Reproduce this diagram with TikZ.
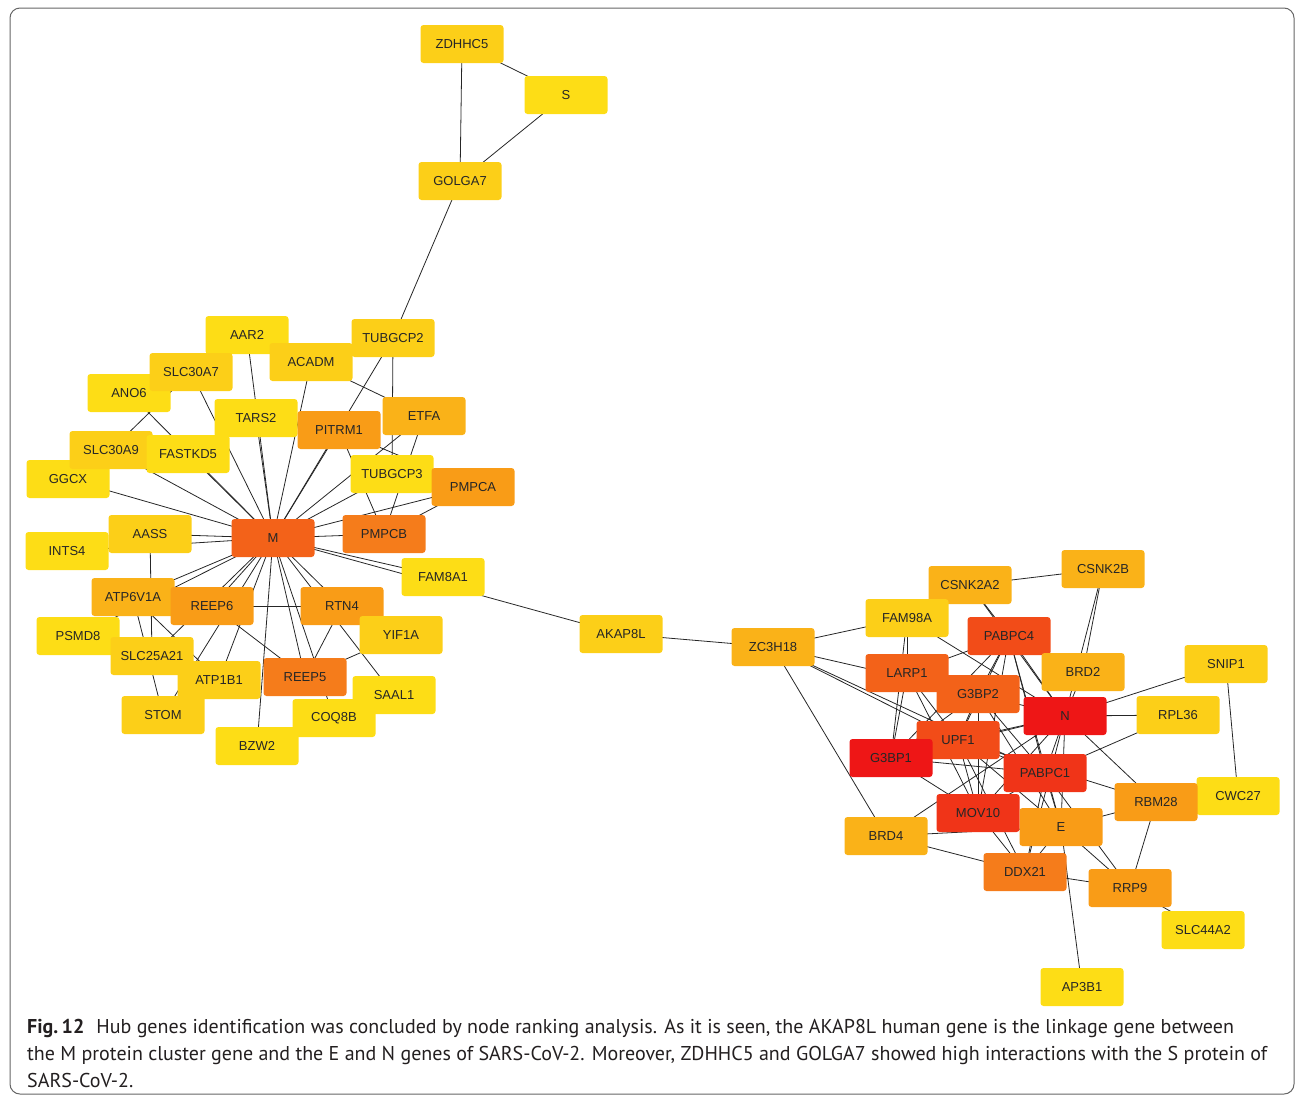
\documentclass[tikz,border=0pt]{standalone}
\usepackage{fontspec}
\newfontfamily\genefont{Liberation Sans}
\newfontfamily\capfont{PT Sans}
\pgfdeclarelayer{bg}
\pgfsetlayers{bg,main}
\definecolor{cY}{RGB}{253,221,22}
\definecolor{cG}{RGB}{252,207,24}
\definecolor{cOa}{RGB}{250,178,24}
\definecolor{cOb}{RGB}{249,156,23}
\definecolor{cOc}{RGB}{245,124,27}
\definecolor{cRa}{RGB}{243,98,25}
\definecolor{cRb}{RGB}{242,76,24}
\definecolor{cRc}{RGB}{240,52,24}
\definecolor{cRd}{RGB}{238,22,22}
\definecolor{captext}{RGB}{35,31,32}
\tikzset{
  gene/.style={rectangle, rounded corners=3pt, minimum width=83pt, minimum height=38pt,
    inner sep=0pt, text=black!85, font=\genefont\fontsize{13}{15}\selectfont},
  link/.style={draw=black!85, line width=0.8pt},
  capline/.style={anchor=base west, inner sep=0pt, text=captext, font=\capfont\fontsize{20}{23}\selectfont}
}
\begin{document}
\begin{tikzpicture}[x=1pt,y=-1pt]
\useasboundingbox (0,0) rectangle (1295,1096);
\draw[black!60, line width=1pt, rounded corners=10pt] (10,8) rectangle (1294,1094);
% top
\node[gene, fill=cG] (ZDHHC5) at (462,44) {ZDHHC5};
\node[gene, fill=cY] (S) at (566,95) {S};
\node[gene, fill=cG] (GOLGA7) at (460,181) {GOLGA7};
% M cluster
\node[gene, fill=cY] (AAR2) at (247,335) {AAR2};
\node[gene, fill=cG] (TUBGCP2) at (393,338) {TUBGCP2};
\node[gene, fill=cG] (ACADM) at (311,362) {ACADM};
\node[gene, fill=cY] (ANO6) at (129,393) {ANO6};
\node[gene, fill=cG] (SLC30A7) at (191,372) {SLC30A7};
\node[gene, fill=cY] (TARS2) at (256,418) {TARS2};
\node[gene, fill=cOa] (ETFA) at (424,416) {ETFA};
\node[gene, fill=cOb] (PITRM1) at (339,430) {PITRM1};
\node[gene, fill=cY] (GGCX) at (68,479) {GGCX};
\node[gene, fill=cG] (SLC30A9) at (111,450) {SLC30A9};
\node[gene, fill=cY] (FASTKD5) at (188,454) {FASTKD5};
\node[gene, fill=cY] (TUBGCP3) at (392,474) {TUBGCP3};
\node[gene, fill=cOb] (PMPCA) at (473,487) {PMPCA};
\node[gene, fill=cRa] (M) at (273,538) {M};
\node[gene, fill=cOc] (PMPCB) at (384,534) {PMPCB};
\node[gene, fill=cY] (INTS4) at (67,551) {INTS4};
\node[gene, fill=cG] (AASS) at (150,534) {AASS};
\node[gene, fill=cY] (FAM8A1) at (443,577) {FAM8A1};
\node[gene, fill=cY] (PSMD8) at (78,636) {PSMD8};
\node[gene, fill=cOa] (ATP6V1A) at (133,597) {ATP6V1A};
\node[gene, fill=cOb] (REEP6) at (212,606) {REEP6};
\node[gene, fill=cOb] (RTN4) at (342,606) {RTN4};
\node[gene, fill=cG] (YIF1A) at (401,635) {YIF1A};
\node[gene, fill=cG] (SLC25A21) at (152,656) {SLC25A21};
\node[gene, fill=cG] (STOM) at (163,715) {STOM};
\node[gene, fill=cG] (ATP1B1) at (219,680) {ATP1B1};
\node[gene, fill=cOc] (REEP5) at (305,677) {REEP5};
\node[gene, fill=cY] (SAAL1) at (394,695) {SAAL1};
\node[gene, fill=cY] (COQ8B) at (334,718) {COQ8B};
\node[gene, fill=cY] (BZW2) at (257,746) {BZW2};
% middle
\node[gene, fill=cG] (AKAP8L) at (621,634) {AKAP8L};
\node[gene, fill=cOa] (ZC3H18) at (773,647) {ZC3H18};
% right cluster
\node[gene, fill=cOa] (CSNK2A2) at (970,585) {CSNK2A2};
\node[gene, fill=cOa] (CSNK2B) at (1103,569) {CSNK2B};
\node[gene, fill=cG] (FAM98A) at (907,618) {FAM98A};
\node[gene, fill=cRb] (PABPC4) at (1009,636) {PABPC4};
\node[gene, fill=cOa] (BRD2) at (1083,672) {BRD2};
\node[gene, fill=cRa] (LARP1) at (907,673) {LARP1};
\node[gene, fill=cG] (SNIP1) at (1226,664) {SNIP1};
\node[gene, fill=cRa] (G3BP2) at (978,694) {G3BP2};
\node[gene, fill=cRd] (N) at (1065,716) {N};
\node[gene, fill=cG] (RPL36) at (1178,715) {RPL36};
\node[gene, fill=cRb] (UPF1) at (958,740) {UPF1};
\node[gene, fill=cRd] (G3BP1) at (891,758) {G3BP1};
\node[gene, fill=cRc] (PABPC1) at (1045,773) {PABPC1};
\node[gene, fill=cY] (CWC27) at (1238,796) {CWC27};
\node[gene, fill=cOb] (RBM28) at (1156,802) {RBM28};
\node[gene, fill=cRc] (MOV10) at (978,813) {MOV10};
\node[gene, fill=cOb] (E) at (1061,827) {E};
\node[gene, fill=cOa] (BRD4) at (886,836) {BRD4};
\node[gene, fill=cOc] (DDX21) at (1025,872) {DDX21};
\node[gene, fill=cOb] (RRP9) at (1130,888) {RRP9};
\node[gene, fill=cY] (SLC44A2) at (1203,930) {SLC44A2};
\node[gene, fill=cY] (AP3B1) at (1082,987) {AP3B1};
% edges
\begin{pgfonlayer}{bg}
\foreach \a/\b in {ZDHHC5/S, ZDHHC5/GOLGA7, S/GOLGA7, GOLGA7/TUBGCP2,
  M/AAR2, M/TARS2, M/ACADM, ACADM/ETFA, M/TUBGCP2, TUBGCP2/TUBGCP3, M/ETFA, ETFA/PMPCB,
  M/PITRM1, PITRM1/PMPCB, PITRM1/PMPCA, M/PMPCA, PMPCA/PMPCB, M/PMPCB, M/TUBGCP3,
  M/SLC30A7, SLC30A7/SLC30A9, M/ANO6, M/SLC30A9, M/FASTKD5, M/GGCX, M/AASS, M/INTS4,
  AASS/SLC25A21, M/ATP6V1A, M/PSMD8, ATP6V1A/STOM, ATP6V1A/ATP1B1, M/REEP6, M/STOM,
  M/ATP1B1, M/SLC25A21, REEP6/RTN4, REEP6/REEP5, M/RTN4, M/REEP5, M/COQ8B, M/SAAL1,
  RTN4/REEP5, REEP5/YIF1A, M/FAM8A1, M/AKAP8L, M/BZW2,
  AKAP8L/ZC3H18, ZC3H18/FAM98A, ZC3H18/BRD4, ZC3H18/UPF1, ZC3H18/PABPC1, ZC3H18/G3BP2,
  CSNK2A2/CSNK2B, CSNK2A2/FAM98A, CSNK2A2/PABPC4, CSNK2A2/N, CSNK2B/BRD2, CSNK2B/N,
  FAM98A/LARP1, FAM98A/G3BP1, FAM98A/N, LARP1/PABPC4, LARP1/G3BP1, LARP1/UPF1, LARP1/MOV10,
  PABPC4/G3BP2, PABPC4/UPF1, PABPC4/G3BP1, PABPC4/MOV10, PABPC4/N, PABPC4/BRD2, PABPC4/PABPC1, PABPC4/E,
  G3BP2/UPF1, G3BP2/G3BP1, G3BP2/MOV10, G3BP2/PABPC1, G3BP2/N, G3BP2/E,
  N/UPF1, N/G3BP1, N/PABPC1, N/MOV10, N/E, N/DDX21, N/RBM28, N/SNIP1, N/RPL36, N/BRD2, N/BRD4,
  UPF1/G3BP1, UPF1/MOV10, UPF1/PABPC1, UPF1/E, UPF1/DDX21, UPF1/RBM28,
  G3BP1/PABPC1, G3BP1/MOV10, PABPC1/MOV10, PABPC1/E, PABPC1/DDX21, PABPC1/RRP9, PABPC1/RPL36,
  MOV10/DDX21, BRD4/E, BRD4/DDX21, E/DDX21, E/RRP9, E/RBM28, E/AP3B1, RBM28/RRP9,
  RRP9/SLC44A2, DDX21/RRP9, SNIP1/CWC27}
  \draw[link] (\a.center) -- (\b.center);
\end{pgfonlayer}
% caption
\node[capline] (cap1) at (27,1033) {\textbf{Fig.\,12}\hspace{0.6em}Hub genes identification was concluded by node ranking analysis. As it is seen, the AKAP8L human gene is the linkage gene between};
\node[capline] (cap2) at (27,1060) {the M protein cluster gene and the E and N genes of SARS-CoV-2. Moreover, ZDHHC5 and GOLGA7 showed high interactions with the S protein of};
\node[capline] (cap3) at (27,1087) {SARS-CoV-2.};
\end{tikzpicture}
\end{document}
